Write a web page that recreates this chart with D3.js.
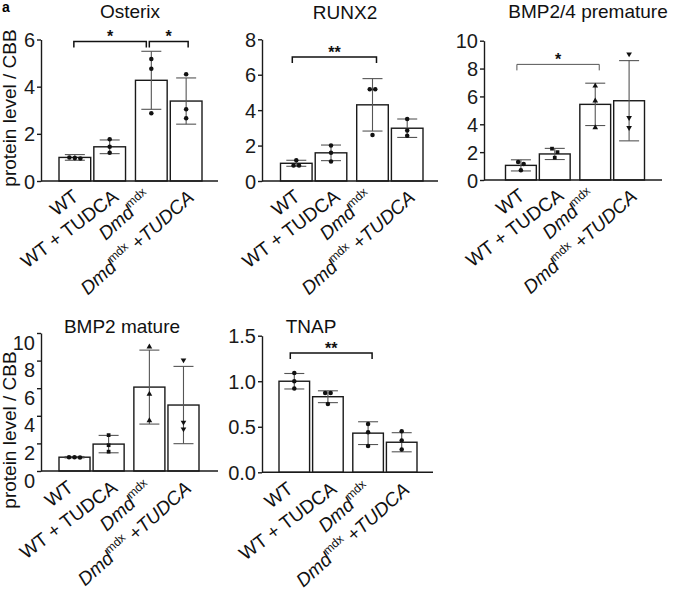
<!DOCTYPE html>
<html>
<head>
<meta charset="utf-8">
<script src="https://cdn.jsdelivr.net/npm/d3@7"></script>
<style>
  body { margin: 0; background: #fff; }
  svg { display: block; font-family: "Liberation Sans", Arial, sans-serif; }
</style>
</head>
<body>
<svg width="673" height="593"></svg>
<script>
const groups = ["WT", "WT + TUDCA", "Dmd^mdx", "Dmd^mdx +TUDCA"];

// Osterix
const osterixMean = [1.0, 1.45, 4.27, 3.39];
const osterixSd = [0.12, 0.29, 1.23, 0.98];
const osterixPts = [[0.95, 1.0, 0.97], [1.77, 1.45, 1.2], [5.17, 4.76, 2.87], [4.53, 3.04, 2.66]];
const osterixTicks = [0, 2, 4, 6];
const osterixSig = [[0, 2, 5.92, "*"], [2, 3, 5.92, "*"]];

// RUNX2
const runx2Mean = [1.0, 1.59, 4.3, 2.98];
const runx2Sd = [0.17, 0.44, 1.48, 0.52];
const runx2Pts = [[1.17, 0.87, 0.88], [2.0, 1.6, 1.1], [5.18, 5.18, 2.6], [3.5, 2.85, 2.55]];
const runx2Ticks = [0, 2, 4, 6, 8];
const runx2Sig = [[0, 2, 7.0, "**"]];

// BMP2/4 premature
const bmp24Mean = [1.05, 1.87, 5.43, 5.69];
const bmp24Sd = [0.4, 0.4, 1.52, 2.88];
const bmp24Pts = [[1.3, 1.15, 0.7], [2.25, 2.0, 1.6], [6.75, 5.69, 3.76], [9.04, 4.47, 3.76]];
const bmp24Ticks = [0, 2, 4, 6, 8, 10];
const bmp24Sig = [[0, 2, 8.3, "*"]];

// BMP2 mature
const bmp2Mean = [1.0, 1.95, 6.08, 4.78];
const bmp2Sd = [0.05, 0.63, 2.68, 2.8];
const bmp2Pts = [[1.0, 1.0, 0.98], [2.6, 1.87, 1.4], [9.0, 5.58, 3.65], [8.04, 3.53, 3.04]];
const bmp2Ticks = [0, 2, 4, 6, 8, 10];
const bmp2Sig = [];

// TNAP
const tnapMean = [1.0, 0.83, 0.43, 0.33];
const tnapSd = [0.085, 0.065, 0.125, 0.105];
const tnapPts = [[1.09, 1.0, 0.92], [0.87, 0.87, 0.75], [0.53, 0.44, 0.29], [0.45, 0.35, 0.25]];
const tnapTicks = [0, 0.5, 1.0, 1.5];
const tnapSig = [[0, 2, 1.31, "**"]];

const circles = ["circle", "circle", "circle", "circle"];
const mixed = ["circle", "square", "triangle", "triangleDown"];

// per-category nudges and angles of the rotated labels (layout only)
const topShift = [5, 10, 1, 9];
const bottomShift = [0, 10, 4, 9];
const labelAngle = [-37, -37, -42, -42];

const panels = [
  { title: "Osterix", mean: osterixMean, sd: osterixSd, pts: osterixPts, ticks: osterixTicks, sig: osterixSig,
    max: 6, fmt: "d", x0: 41, y0: 181, yTop: 39.5, inset: 18, span: 143, axisLen: 177, titleX: 130, titleY: 18,
    sym: circles, sigColor: "#111", sigWidth: 1.5, catDy: 18, catDx: topShift },
  { title: "RUNX2", mean: runx2Mean, sd: runx2Sd, pts: runx2Pts, ticks: runx2Ticks, sig: runx2Sig,
    max: 8, fmt: "d", x0: 262, y0: 181, yTop: 39.3, inset: 18.5, span: 142.5, axisLen: 176, titleX: 345, titleY: 19,
    sym: circles, sigColor: "#111", sigWidth: 1.5, catDy: 18, catDx: topShift },
  { title: "BMP2/4 premature", mean: bmp24Mean, sd: bmp24Sd, pts: bmp24Pts, ticks: bmp24Ticks, sig: bmp24Sig,
    max: 10, fmt: "d", x0: 484, y0: 180, yTop: 40.7, inset: 21.5, span: 139, axisLen: 178, titleX: 588, titleY: 18,
    sym: mixed, sigColor: "#555", sigWidth: 1, catDy: 18, catDx: topShift },
  { title: "BMP2 mature", mean: bmp2Mean, sd: bmp2Sd, pts: bmp2Pts, ticks: bmp2Ticks, sig: bmp2Sig,
    max: 10, fmt: "d", x0: 41, y0: 471, yTop: 333, inset: 18, span: 140, axisLen: 177, titleX: 122, titleY: 333,
    sym: mixed, sigColor: "#111", sigWidth: 1.5, labelDy: 9, catDy: 19, catDx: bottomShift },
  { title: "TNAP", mean: tnapMean, sd: tnapSd, pts: tnapPts, ticks: tnapTicks, sig: tnapSig,
    max: 1.5, fmt: ".1f", x0: 262, y0: 472.3, yTop: 335.7, inset: 17, span: 138, axisLen: 171, titleX: 311, titleY: 333,
    sym: circles, sigColor: "#111", sigWidth: 1.5, catDy: 19, catDx: bottomShift }
];

const svg = d3.select("svg");

svg.append("text")
  .attr("x", 2).attr("y", 12)
  .style("font-size", "14px").style("font-weight", "bold")
  .text("a");

// y axis titles, one per row
[108, 430].forEach(cy => {
  svg.append("text")
    .attr("transform", `translate(16,${cy}) rotate(-90)`)
    .attr("text-anchor", "middle")
    .style("font-size", "19px")
    .attr("fill", "#111")
    .text("protein level / CBB");
});

const symbolTypes = {
  circle: d3.symbolCircle,
  square: d3.symbolSquare,
  triangle: d3.symbolTriangle,
  triangleDown: d3.symbolTriangle
};

function drawLabel(sel, label) {
  if (label.startsWith("Dmd")) {
    const rest = label.replace("Dmd^mdx", "");
    sel.append("tspan").style("font-style", "italic").text("Dmd");
    sel.append("tspan").style("font-size", "12px").attr("dy", -8).text("mdx");
    if (rest) sel.append("tspan").attr("dy", 8).style("font-style", "italic").text(rest);
  } else {
    sel.text(label);
  }
}

panels.forEach(p => {
  const g = svg.append("g");

  const y = d3.scaleLinear().domain([0, p.max]).range([p.y0, p.yTop]);
  const outer = d3.scaleBand().domain([0, 1])
    .range([p.x0 + p.inset, p.x0 + p.inset + p.span]).paddingInner(0.13);
  const inner = d3.scaleBand().domain([0, 1])
    .range([0, outer.bandwidth()]).paddingInner(0.09);
  const xLeft = i => outer(Math.floor(i / 2)) + inner(i % 2);
  const xMid = i => xLeft(i) + inner.bandwidth() / 2;

  // title
  g.append("text")
    .attr("x", p.titleX).attr("y", p.titleY)
    .attr("text-anchor", "middle")
    .style("font-size", "19px")
    .attr("fill", "#111")
    .text(p.title);

  // bars
  g.selectAll("rect.bar").data(p.mean).join("rect")
    .attr("class", "bar")
    .attr("x", (d, i) => xLeft(i))
    .attr("width", inner.bandwidth())
    .attr("y", d => y(d))
    .attr("height", d => y(0) - y(d))
    .attr("fill", "#fff")
    .attr("stroke", "#1a1a1a")
    .attr("stroke-width", 1.4);

  // error bars
  const eb = g.selectAll("g.err").data(p.mean).join("g").attr("class", "err")
    .attr("stroke", "#555").attr("stroke-width", 1.1);
  eb.append("line")
    .attr("x1", (d, i) => xMid(i)).attr("x2", (d, i) => xMid(i))
    .attr("y1", (d, i) => y(d + p.sd[i])).attr("y2", (d, i) => y(d - p.sd[i]));
  [1, -1].forEach(s => {
    eb.append("line")
      .attr("x1", (d, i) => xMid(i) - 10).attr("x2", (d, i) => xMid(i) + 10)
      .attr("y1", (d, i) => y(d + s * p.sd[i])).attr("y2", (d, i) => y(d + s * p.sd[i]));
  });

  // points, spread sideways when they overlap
  p.pts.forEach((vals, i) => {
    const py = vals.map(v => y(v)).sort((a, b) => a - b);
    const clusters = [];
    py.forEach(v => {
      const last = clusters[clusters.length - 1];
      if (last && v - last[last.length - 1] < 4.5) last.push(v);
      else clusters.push([v]);
    });
    const symType = p.sym[i];
    clusters.forEach(c => {
      c.forEach((v, k) => {
        const dx = (k - (c.length - 1) / 2) * 5.5;
        g.append("path")
          .attr("d", d3.symbol(symbolTypes[symType], symType === "circle" ? 16 : 14)())
          .attr("transform", `translate(${xMid(i) + dx},${v})` + (symType === "triangleDown" ? " rotate(180)" : ""))
          .attr("fill", "#111");
      });
    });
  });

  // y axis
  const ax = g.append("g")
    .attr("transform", `translate(${p.x0},0)`)
    .call(d3.axisLeft(y).tickValues(p.ticks).tickFormat(d3.format(p.fmt))
      .tickSize(4).tickSizeOuter(0).tickPadding(2));
  ax.attr("font-family", null);
  ax.select(".domain").attr("stroke", "#1a1a1a").attr("stroke-width", 1.4);
  ax.selectAll(".tick line").attr("stroke", "#1a1a1a").attr("stroke-width", 1.4);
  ax.selectAll(".tick text")
    .style("font-size", "20px").attr("fill", "#1a1a1a")
    .attr("dy", `${0.35 * 20 + (p.labelDy || 0)}px`);

  // x axis line
  g.append("line")
    .attr("x1", p.x0).attr("x2", p.x0 + p.axisLen)
    .attr("y1", y(0)).attr("y2", y(0))
    .attr("stroke", "#1a1a1a").attr("stroke-width", 1.4);

  // category labels
  groups.forEach((lab, i) => {
    const t = g.append("text")
      .attr("transform", `translate(${xMid(i) + p.catDx[i]},${y(0) + p.catDy}) rotate(${labelAngle[i]})`)
      .attr("text-anchor", "end")
      .style("font-size", "19px")
      .attr("fill", "#111");
    drawLabel(t, lab);
  });

  // significance brackets
  p.sig.forEach(([a, b, lvl, star], k) => {
    const shared = p.sig.length > 1;
    const xa = xMid(a) - (shared ? 1 : 4) + (shared && k === 1 ? -1 : 0);
    const xb = xMid(b) + (shared && k === 0 ? -5 : shared ? 2 : 4);
    const yy = y(lvl);
    g.append("path")
      .attr("d", `M${xa},${yy + 6}V${yy}H${xb}V${yy + 6}`)
      .attr("fill", "none")
      .attr("stroke", p.sigColor)
      .attr("stroke-width", p.sigWidth);
    g.append("text")
      .attr("x", (xa + xb) / 2).attr("y", yy + 1)
      .attr("text-anchor", "middle")
      .style("font-size", "16px").style("font-weight", "bold")
      .attr("fill", "#111")
      .text(star);
  });
});
</script>
</body>
</html>
